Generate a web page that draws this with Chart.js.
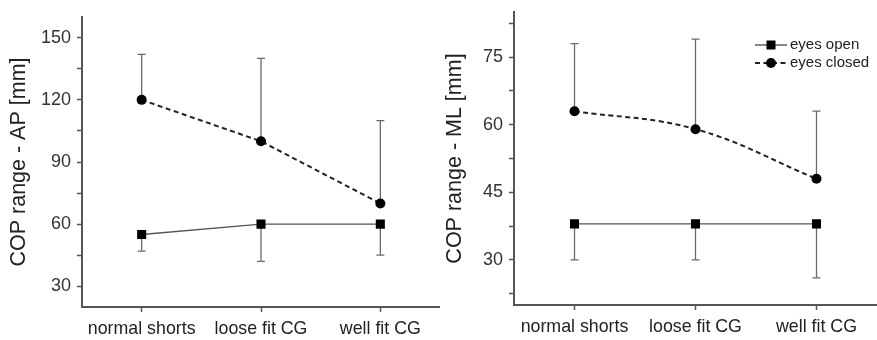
<!DOCTYPE html>
<html>
<head>
<meta charset="utf-8">
<script src="https://cdn.jsdelivr.net/npm/chart.js@4"></script>
<style>
  html, body { margin: 0; padding: 0; background: #fff; }
  .panel { position: absolute; top: 0; height: 340px; }
  #apPanel { left: 0; width: 440px; }
  #mlPanel { left: 440px; width: 437px; }
</style>
</head>
<body>
<div class="panel" id="apPanel"><canvas id="chartAP" width="440" height="340"></canvas></div>
<div class="panel" id="mlPanel"><canvas id="chartML" width="437" height="340"></canvas></div>
<script>
const categories = ['normal shorts', 'loose fit CG', 'well fit CG'];

// COP range AP (mm): means and one-sided SD bounds
const apOpen = [55, 60, 60];
const apOpenLow = [47, 42, 45];
const apClosed = [120, 100, 70];
const apClosedHigh = [142, 140, 110];
const apLabelled = [30, 60, 90, 120, 150];

// COP range ML (mm)
const mlOpen = [38, 38, 38];
const mlOpenLow = [30, 30, 26];
const mlClosed = [63, 59, 48];
const mlClosedHigh = [78, 79, 63];
const mlLabelled = [30, 45, 60, 75];

const legendNames = ['eyes open', 'eyes closed'];

const FONT = "'Liberation Sans', Arial, sans-serif";
Chart.defaults.font.family = FONT;
Chart.defaults.color = '#222';

// whiskers from the mean to the bound, drawn under the markers
const errorBars = {
  id: 'errorBars',
  beforeDatasetsDraw(chart) {
    const { ctx, scales: { x, y } } = chart;
    ctx.save();
    ctx.strokeStyle = '#6a6a6a';
    ctx.lineWidth = 1.3;
    chart.data.datasets.forEach((ds) => {
      if (!ds.errorTo) return;
      ds.data.forEach((v, i) => {
        const px = x.getPixelForValue(i);
        const y0 = y.getPixelForValue(v);
        const y1 = y.getPixelForValue(ds.errorTo[i]);
        ctx.beginPath();
        ctx.moveTo(px, y0);
        ctx.lineTo(px, y1);
        ctx.moveTo(px - 4, y1);
        ctx.lineTo(px + 4, y1);
        ctx.stroke();
      });
    });
    ctx.restore();
  },
};

// line + marker legend in the top right corner
const sampleLegend = {
  id: 'sampleLegend',
  afterDraw(chart, args, opts) {
    if (!opts.show) return;
    const { ctx } = chart;
    ctx.save();
    ctx.font = '15px ' + FONT;
    ctx.textBaseline = 'middle';
    chart.data.datasets.forEach((ds, k) => {
      const yy = opts.y + k * 18;
      ctx.strokeStyle = ds.borderColor;
      ctx.lineWidth = ds.borderWidth;
      ctx.setLineDash(ds.borderDash || []);
      ctx.beginPath();
      ctx.moveTo(opts.x, yy);
      ctx.lineTo(opts.x + 32, yy);
      ctx.stroke();
      ctx.setLineDash([]);
      ctx.fillStyle = '#000';
      const cx = opts.x + 16;
      if (ds.pointStyle === 'rect') {
        ctx.fillRect(cx - 4.5, yy - 4.5, 9, 9);
      } else {
        ctx.beginPath();
        ctx.arc(cx, yy, 5, 0, Math.PI * 2);
        ctx.fill();
      }
      ctx.fillStyle = '#222';
      ctx.fillText(legendNames[k], opts.x + 35, yy);
    });
    ctx.restore();
  },
};

function makePanel(canvas, cfg) {
  return new Chart(canvas, {
    type: 'line',
    plugins: [errorBars, sampleLegend],
    data: {
      labels: categories,
      datasets: [
        {
          label: legendNames[0], data: cfg.open, errorTo: cfg.openLow,
          borderColor: '#555', borderWidth: 1.4, pointStyle: 'rect', pointRadius: 6.4,
          pointBackgroundColor: '#000', pointBorderWidth: 0, tension: 0,
        },
        {
          label: legendNames[1], data: cfg.closed, errorTo: cfg.closedHigh,
          borderColor: '#222', borderWidth: 2, borderDash: [5, 3.5], pointStyle: 'circle', pointRadius: 5,
          pointBackgroundColor: '#000', pointBorderWidth: 0, tension: cfg.tension,
        },
      ],
    },
    options: {
      responsive: false,
      animation: false,
      layout: { autoPadding: false, padding: { top: cfg.top, left: 0, right: 0, bottom: 0 } },
      plugins: {
        legend: { display: false },
        tooltip: { enabled: false },
        sampleLegend: cfg.legend || { show: false },
      },
      scales: {
        x: {
          offset: true,
          grid: { drawOnChartArea: false, tickLength: 5, tickColor: '#555', tickWidth: 1.5 },
          border: { color: '#555', width: 2 },
          ticks: { font: { size: 17.8 }, color: '#222', padding: 6, maxRotation: 0, autoSkip: false },
          afterFit(s) { s.height = 340 - cfg.bottom; s.paddingLeft = 0; s.paddingRight = 0; },
        },
        y: {
          min: cfg.min, max: cfg.max,
          grid: { drawOnChartArea: false, tickLength: 5, tickColor: '#555', tickWidth: 1.5 },
          border: { color: '#555', width: 2 },
          ticks: {
            stepSize: cfg.step, includeBounds: false, padding: 6, color: '#333', font: { size: 18 },
            callback: (v) => (cfg.labelled.includes(v) ? String(v) : ''),
          },
          title: { display: true, text: cfg.title, font: { size: 21.5 }, color: '#222', padding: { top: cfg.titlePad, bottom: 0 } },
          afterFit(s) { s.width = cfg.axisX; s.paddingTop = 0; s.paddingBottom = 0; },
        },
      },
    },
  });
}

makePanel(document.getElementById('chartAP'), {
  open: apOpen, openLow: apOpenLow, closed: apClosed, closedHigh: apClosedHigh,
  min: 20, max: 160, step: 15, labelled: apLabelled, title: 'COP range - AP [mm]',
  axisX: 82, top: 17, bottom: 307, titlePad: 6, tension: 0,
});

makePanel(document.getElementById('chartML'), {
  open: mlOpen, openLow: mlOpenLow, closed: mlClosed, closedHigh: mlClosedHigh,
  min: 20, max: 85, step: 7.5, labelled: mlLabelled, title: 'COP range - ML [mm]',
  axisX: 74, top: 12, bottom: 305, titlePad: 2, tension: 0.4,
  legend: { show: true, x: 315, y: 45 },
});
</script>
</body>
</html>
